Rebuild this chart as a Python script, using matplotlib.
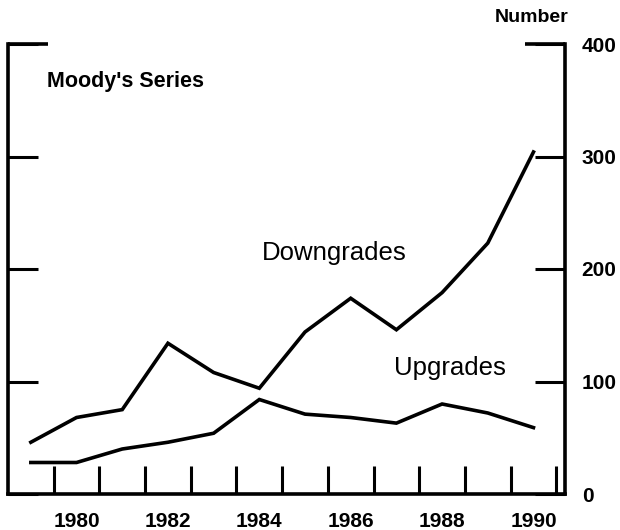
import matplotlib
matplotlib.use("Agg")
import matplotlib.pyplot as plt

# Moody's rating changes, counts per year
years = [1979, 1980, 1981, 1982, 1983, 1984, 1985, 1986, 1987, 1988, 1989, 1990]
downgrades = [46, 68, 75, 134, 108, 94, 144, 174, 146, 179, 223, 304]
upgrades = [28, 28, 40, 46, 54, 84, 71, 68, 63, 80, 72, 59]

label_years = [1980, 1982, 1984, 1986, 1988, 1990]
y_ticks = [0, 100, 200, 300, 400]

plt.rcParams["font.family"] = ["Liberation Sans", "DejaVu Sans"]

fig = plt.figure(figsize=(6.2, 5.3), dpi=100)
ax = fig.add_axes([8 / 620, 36 / 530, 557 / 620, 450 / 530])

lw = 2.6
ax.plot(years, downgrades, color="black", lw=lw, solid_joinstyle="miter")
ax.plot(years, upgrades, color="black", lw=lw, solid_joinstyle="miter")

ax.set_xlim(1978.5, 1990.69)
ax.set_ylim(0, 400)

for side in ("left", "right", "bottom"):
    ax.spines[side].set_linewidth(2.6)
ax.spines["top"].set_visible(False)

# x axis: tick marks at year boundaries, labels at year centres
ax.set_xticks(label_years)
ax.set_xticklabels([str(y) for y in label_years], fontsize=15, fontweight="bold")
ax.set_xticks([y + 0.5 for y in years], minor=True)
ax.tick_params(axis="x", which="major", length=0, pad=13)
ax.tick_params(axis="x", which="minor", direction="in", length=20, width=2.2)

# y axis: ticks on both sides, labels on the right only
ax.set_yticks(y_ticks)
ax.set_yticklabels([str(v) for v in y_ticks], fontsize=15, fontweight="bold")
ax.tick_params(axis="y", direction="in", length=21.5, width=2.2,
               left=True, right=True, labelleft=False, labelright=True, pad=12)

# longer corner ticks at the top
ax.plot([0, 40 / 557], [1, 1], transform=ax.transAxes, color="black",
        lw=2.6, clip_on=False, solid_capstyle="butt")
ax.plot([1 - 40 / 557, 1], [1, 1], transform=ax.transAxes, color="black",
        lw=2.6, clip_on=False, solid_capstyle="butt")

ax.text(1979.35, 367, "Moody's Series", fontsize=15.5, fontweight="bold",
        ha="left", va="center")
ax.text(1985.65, 214, "Downgrades", fontsize=18.5, ha="center", va="center")
ax.text(1988.17, 112, "Upgrades", fontsize=18.5, ha="center", va="center")
fig.text(568 / 620, 1 - 17 / 530, "Number", fontsize=14, fontweight="bold",
         ha="right", va="center")

fig.savefig("out.png", dpi=100)
